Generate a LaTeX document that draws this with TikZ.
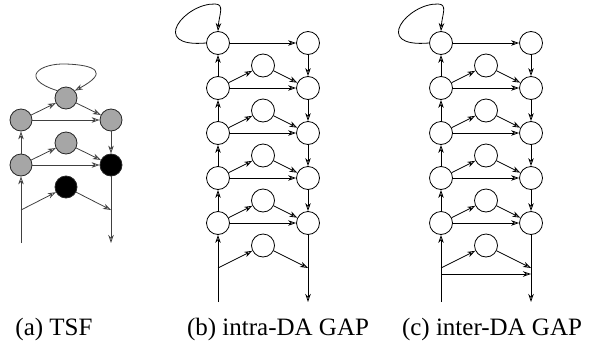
\documentclass[tikz,border=0pt]{standalone}
\usepackage{fontspec}
\setmainfont{Liberation Serif}
\newfontfamily\capfont{Liberation Serif}
\usetikzlibrary{arrows.meta}
\tikzset{
  arr/.style={-{Stealth[open,length=8pt,width=5.5pt,inset=2.5pt]}},
  wnode/.style={circle,draw,fill=white,minimum size=23pt,inner sep=0pt},
  gnode/.style={circle,draw=black!85,fill=black!35,minimum size=22pt,inner sep=0pt},
  knode/.style={circle,draw=black!85,fill=black,minimum size=22pt,inner sep=0pt},
  subcap/.style={anchor=base,inner sep=0pt,font=\capfont\fontsize{25}{30}\selectfont}
}

\begin{document}
\begin{tikzpicture}[x=1pt,y=-1pt,line width=0.8pt]
		\useasboundingbox (0,0) rectangle (593,343);
		%%%%% (a) TSF %%%%%
		\node[gnode] (at) at (66,98) {};
		\node[gnode] (al1) at (21,120) {};
		\node[gnode] (ar1) at (111,120) {};
		\node[gnode] (am2) at (66,143) {};
		\node[gnode] (al2) at (21,165) {};
		\node[knode] (ar2) at (111,165) {};
		\node[knode] (am3) at (66,187) {};
		\coordinate (af) at (21,210);
		\coordinate (ae) at (111,210);
		\coordinate (ab) at (21,243);
		\coordinate (az) at (111,243);
		
		\begin{scope}[draw=black!75]
		\draw[arr] (at.140) .. controls (18,78) and (40,63) .. (66,64)
		           .. controls (95,65) and (110,72) .. (at.40);
		\draw[arr] (al1) -- (at);
		\draw[arr] (at) -- (ar1);
		\draw[arr] (al1) -- (ar1);
		\draw[arr] (al2) -- (am2);
		\draw[arr] (am2) -- (ar2);
		\draw[arr] (al2) -- (ar2);
		\draw[arr] (al2) -- (al1);
		\draw[arr] (ar1) -- (ar2);
		\draw[arr] (ab) -- (al2);
		\draw[arr] (af) -- (am3);
		\draw[arr] (am3) -- (ae);
		\draw[arr] (ar2) -- (az);
		\end{scope}
		
		%%%%% (b) intra-DA GAP and (c) inter-DA GAP %%%%%
		\foreach \p/\x in {b/218, c/441} {
			\foreach \i in {1,...,5} {
				\node[wnode] (\p l\i) at (\x, {43+45*(\i-1)}) {};
				\node[wnode] (\p r\i) at (\x+90, {43+45*(\i-1)}) {};
			}
			\foreach \i in {2,...,6}
				\node[wnode] (\p m\i) at (\x+45, {20.5+45*(\i-1)}) {};
			\coordinate (\p f) at (\x,268);
			\coordinate (\p e) at (\x+90,268);
			\coordinate (\p b) at (\x,302);
			\coordinate (\p z) at (\x+90,302);
			
			\draw[arr] (\p l1.west) .. controls (\x-70,48) and (\x-33,3) .. (\x-3,4)
			           .. controls (\x+7,4) and (\x+1,15) .. (\p l1.north);
			\foreach \i in {1,...,5}
				\draw[arr] (\p l\i) -- (\p r\i);
			\foreach \i [count=\j] in {2,...,5} {
				\draw[arr] (\p l\i) -- (\p l\j);
				\draw[arr] (\p r\j) -- (\p r\i);
				\draw[arr] (\p l\i) -- (\p m\i);
				\draw[arr] (\p m\i) -- (\p r\i);
			}
			\draw[arr] (\p b) -- (\p l5);
			\draw[arr] (\p f) -- (\p m6);
			\draw[arr] (\p m6) -- (\p e);
			\draw[arr] (\p r5) -- (\p z);
		}
		
		% extra link of (c)
		\coordinate (cg) at (441,274);
		\coordinate (ch) at (531,274);
		\draw[arr] (cg) -- (ch);
		
		%%%%% captions %%%%%
		\node[subcap] (capa) at (54,335) {(a) TSF};
		\node[subcap] (capb) at (278,335) {(b) intra-DA GAP};
		\node[subcap] (capc) at (492,335) {(c) inter-DA GAP};
	\end{tikzpicture}
\end{document}
